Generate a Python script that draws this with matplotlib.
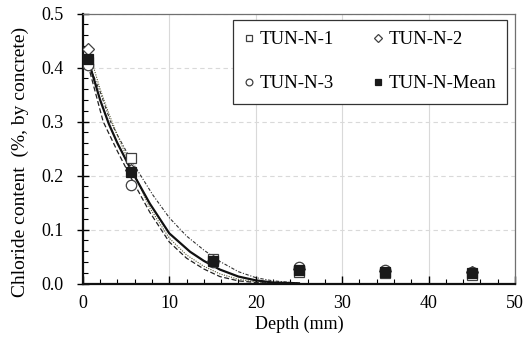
import numpy as np
import matplotlib
matplotlib.use("Agg")
import matplotlib.pyplot as plt
from matplotlib.ticker import MultipleLocator, FormatStrFormatter

plt.rcParams["font.family"] = ["Liberation Serif", "DejaVu Serif"]
plt.rcParams["font.size"] = 13

# measured chloride profiles (depth in mm, % by concrete)
depth = [0.6, 5.6, 15, 25, 35, 45]
tun_n1 = [0.410, 0.232, 0.046, 0.022, 0.020, 0.015]
tun_n2 = [0.435, 0.210, 0.042, 0.027, 0.024, 0.021]
tun_n3 = [0.405, 0.182, 0.040, 0.031, 0.025, 0.022]
tun_mean = [0.415, 0.206, 0.042, 0.025, 0.022, 0.019]

# fitted curves
fit_mean_x = [0.6, 2, 3, 4, 5.6, 7.75, 10, 12.4, 14, 15.85, 18, 20, 22, 25]
fit_mean_y = [0.415, 0.34, 0.296, 0.26, 0.21, 0.148, 0.093, 0.059, 0.042, 0.026, 0.013, 0.006, 0.002, 0.0005]
fit_n1_x = [0.6, 2, 3.2, 4, 5.6, 8.1, 10, 12, 14, 15.85, 18, 20, 22, 25]
fit_n1_y = [0.41, 0.355, 0.30, 0.275, 0.228, 0.164, 0.122, 0.088, 0.062, 0.041, 0.022, 0.011, 0.005, 0.001]
fit_n2_x = [0.6, 2, 3, 4, 5.6, 7.75, 10, 12, 14, 15.85, 18, 20, 22]
fit_n2_y = [0.435, 0.36, 0.315, 0.275, 0.215, 0.14, 0.084, 0.053, 0.032, 0.018, 0.008, 0.003, 0.001]
fit_n3_x = [0.6, 2.35, 4, 5.6, 7.75, 10, 12, 14, 15.85, 18, 20, 22]
fit_n3_y = [0.405, 0.30, 0.245, 0.195, 0.132, 0.077, 0.047, 0.027, 0.013, 0.005, 0.002, 0.0005]

fig = plt.figure(figsize=(5.31, 3.38), dpi=100)
ax = fig.add_axes([0.156, 0.161, 0.814, 0.799])

# grid
ax.grid(axis="x", color="#d9d9d9", lw=0.8, ls="-", zorder=0)
ax.grid(axis="y", color="#d9d9d9", lw=0.8, ls=(0, (4, 3)), zorder=0)

# fitted curves
ax.plot(fit_n1_x, fit_n1_y, color="#333333", lw=0.8, ls=(0, (3, 1.5, 1, 1.5)), zorder=2)
ax.plot(fit_n2_x, fit_n2_y, color="#555533", lw=0.8, ls=(0, (1, 1.2)), zorder=2)
ax.plot(fit_n3_x, fit_n3_y, color="#222222", lw=0.9, ls=(0, (4, 2)), zorder=2)
ax.plot(fit_mean_x, fit_mean_y, color="#111111", lw=1.6, zorder=3)

# measured points
edge = "#404040"
h1, = ax.plot(depth, tun_n1, ls="none", marker="s", ms=7.5, mfc="white", mec=edge, mew=0.9, label="TUN-N-1", zorder=4)
h2, = ax.plot(depth, tun_n2, ls="none", marker="D", ms=6, mfc="white", mec=edge, mew=0.9, label="TUN-N-2", zorder=4)
h3, = ax.plot(depth, tun_n3, ls="none", marker="o", ms=7.5, mfc="white", mec=edge, mew=0.9, label="TUN-N-3", zorder=4)
hm, = ax.plot(depth, tun_mean, ls="none", marker="s", ms=7.5, mfc="#1a1a1a", mec="#1a1a1a", mew=0.9, label="TUN-N-Mean", zorder=5)

ax.set_xlim(0, 50)
ax.set_ylim(0, 0.5)
ax.xaxis.set_major_locator(MultipleLocator(10))
ax.xaxis.set_minor_locator(MultipleLocator(2))
ax.yaxis.set_major_locator(MultipleLocator(0.1))
ax.yaxis.set_minor_locator(MultipleLocator(0.02))
ax.yaxis.set_major_formatter(FormatStrFormatter("%.1f"))

ax.tick_params(axis="x", which="major", direction="in", length=6, width=1, pad=8, labelsize=13)
ax.tick_params(axis="x", which="minor", direction="in", length=3.5, width=0.8)
ax.tick_params(axis="y", which="major", direction="inout", length=8, width=1, pad=10, labelsize=13)
ax.tick_params(axis="y", which="minor", direction="in", length=3.5, width=0.8)

for s in ("left", "bottom"):
    ax.spines[s].set_color("#111111")
    ax.spines[s].set_linewidth(1.6)
for s in ("top", "right"):
    ax.spines[s].set_color("#707070")
    ax.spines[s].set_linewidth(0.9)

ax.set_xlabel("Depth (mm)", fontsize=13, labelpad=3)
ax.set_ylabel("Chloride content  (%, by concrete)", fontsize=14)
ax.yaxis.set_label_coords(-0.124, 0.45)

# row-wise order: N-1, N-2 / N-3, Mean
leg = ax.legend([h1, h3, h2, hm], ["TUN-N-1", "TUN-N-3", "TUN-N-2", "TUN-N-Mean"],
                loc="upper right", ncol=2, fontsize=13.5, frameon=True, fancybox=False,
                edgecolor="#333333", framealpha=1, markerscale=0.65, handlelength=0.5,
                handletextpad=0.3, columnspacing=2.1, labelspacing=1.45,
                borderpad=0.6, borderaxespad=0, bbox_to_anchor=(0.982, 0.977))
leg.get_frame().set_linewidth(0.9)

fig.savefig("out.png", dpi=100)
